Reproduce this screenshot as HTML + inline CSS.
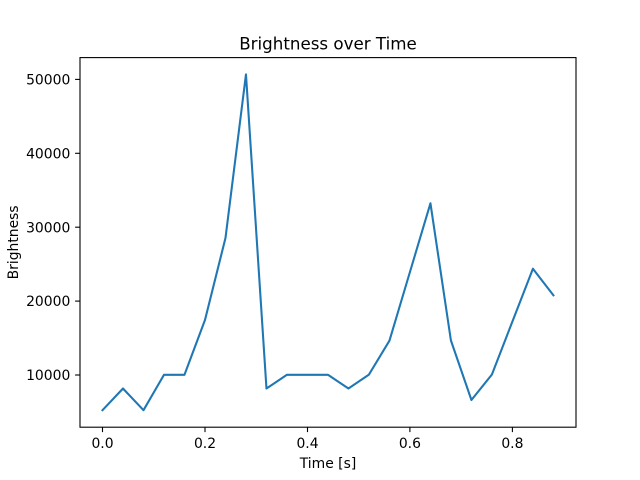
<!DOCTYPE html>
<html>
<head>
<meta charset="utf-8">
<style>
  html, body { margin: 0; padding: 0; background: #fff; }
  svg { display: block; }
  text { font-family: "DejaVu Sans", "Liberation Sans", sans-serif; fill: #000; }
</style>
</head>
<body>
<svg width="640" height="480" viewBox="0 0 640 480" xmlns="http://www.w3.org/2000/svg">
  <rect x="0" y="0" width="640" height="480" fill="#fff"/>
  <!-- data line -->
  <polyline fill="none" stroke="#1f77b4" stroke-width="2.08" stroke-linejoin="round" stroke-linecap="square"
    points="102.5,410.2 122.99,388.5 143.49,410.2 163.99,374.8 184.48,374.8 204.98,320 225.48,238 245.97,74.4 266.47,388.5 286.96,374.8 307.46,374.8 327.96,374.8 348.45,388.5 368.95,374.6 389.44,340.7 409.94,272 430.44,203.3 450.93,340.5 471.43,400 491.92,374.5 512.42,321.5 532.92,268.7 553.41,295.3"/>
  <!-- axes frame -->
  <rect x="80" y="57.6" width="496" height="369.6" fill="none" stroke="#000" stroke-width="1.1"/>
  <!-- x ticks -->
  <g stroke="#000" stroke-width="1.1">
    <line x1="102.5" y1="427.2" x2="102.5" y2="432.1"/>
    <line x1="205.0" y1="427.2" x2="205.0" y2="432.1"/>
    <line x1="307.5" y1="427.2" x2="307.5" y2="432.1"/>
    <line x1="409.9" y1="427.2" x2="409.9" y2="432.1"/>
    <line x1="512.4" y1="427.2" x2="512.4" y2="432.1"/>
  </g>
  <g font-size="13.9" text-anchor="middle">
    <text x="102.5" y="448.2">0.0</text>
    <text x="205.0" y="448.2">0.2</text>
    <text x="307.5" y="448.2">0.4</text>
    <text x="409.9" y="448.2">0.6</text>
    <text x="512.4" y="448.2">0.8</text>
  </g>
  <!-- y ticks -->
  <g stroke="#000" stroke-width="1.1">
    <line x1="75.1" y1="375.0" x2="80" y2="375.0"/>
    <line x1="75.1" y1="301.1" x2="80" y2="301.1"/>
    <line x1="75.1" y1="227.2" x2="80" y2="227.2"/>
    <line x1="75.1" y1="153.3" x2="80" y2="153.3"/>
    <line x1="75.1" y1="79.4" x2="80" y2="79.4"/>
  </g>
  <g font-size="13.9" text-anchor="end">
    <text x="70.3" y="380.1">10000</text>
    <text x="70.3" y="306.2">20000</text>
    <text x="70.3" y="232.3">30000</text>
    <text x="70.3" y="158.4">40000</text>
    <text x="70.3" y="84.5">50000</text>
  </g>
  <!-- labels -->
  <text x="328" y="468.2" font-size="13.9" text-anchor="middle">Time [s]</text>
  <text transform="translate(17.8,242.4) rotate(-90)" font-size="13.9" text-anchor="middle">Brightness</text>
  <text x="328" y="49.3" font-size="16.7" text-anchor="middle">Brightness over Time</text>
</svg>
</body>
</html>
